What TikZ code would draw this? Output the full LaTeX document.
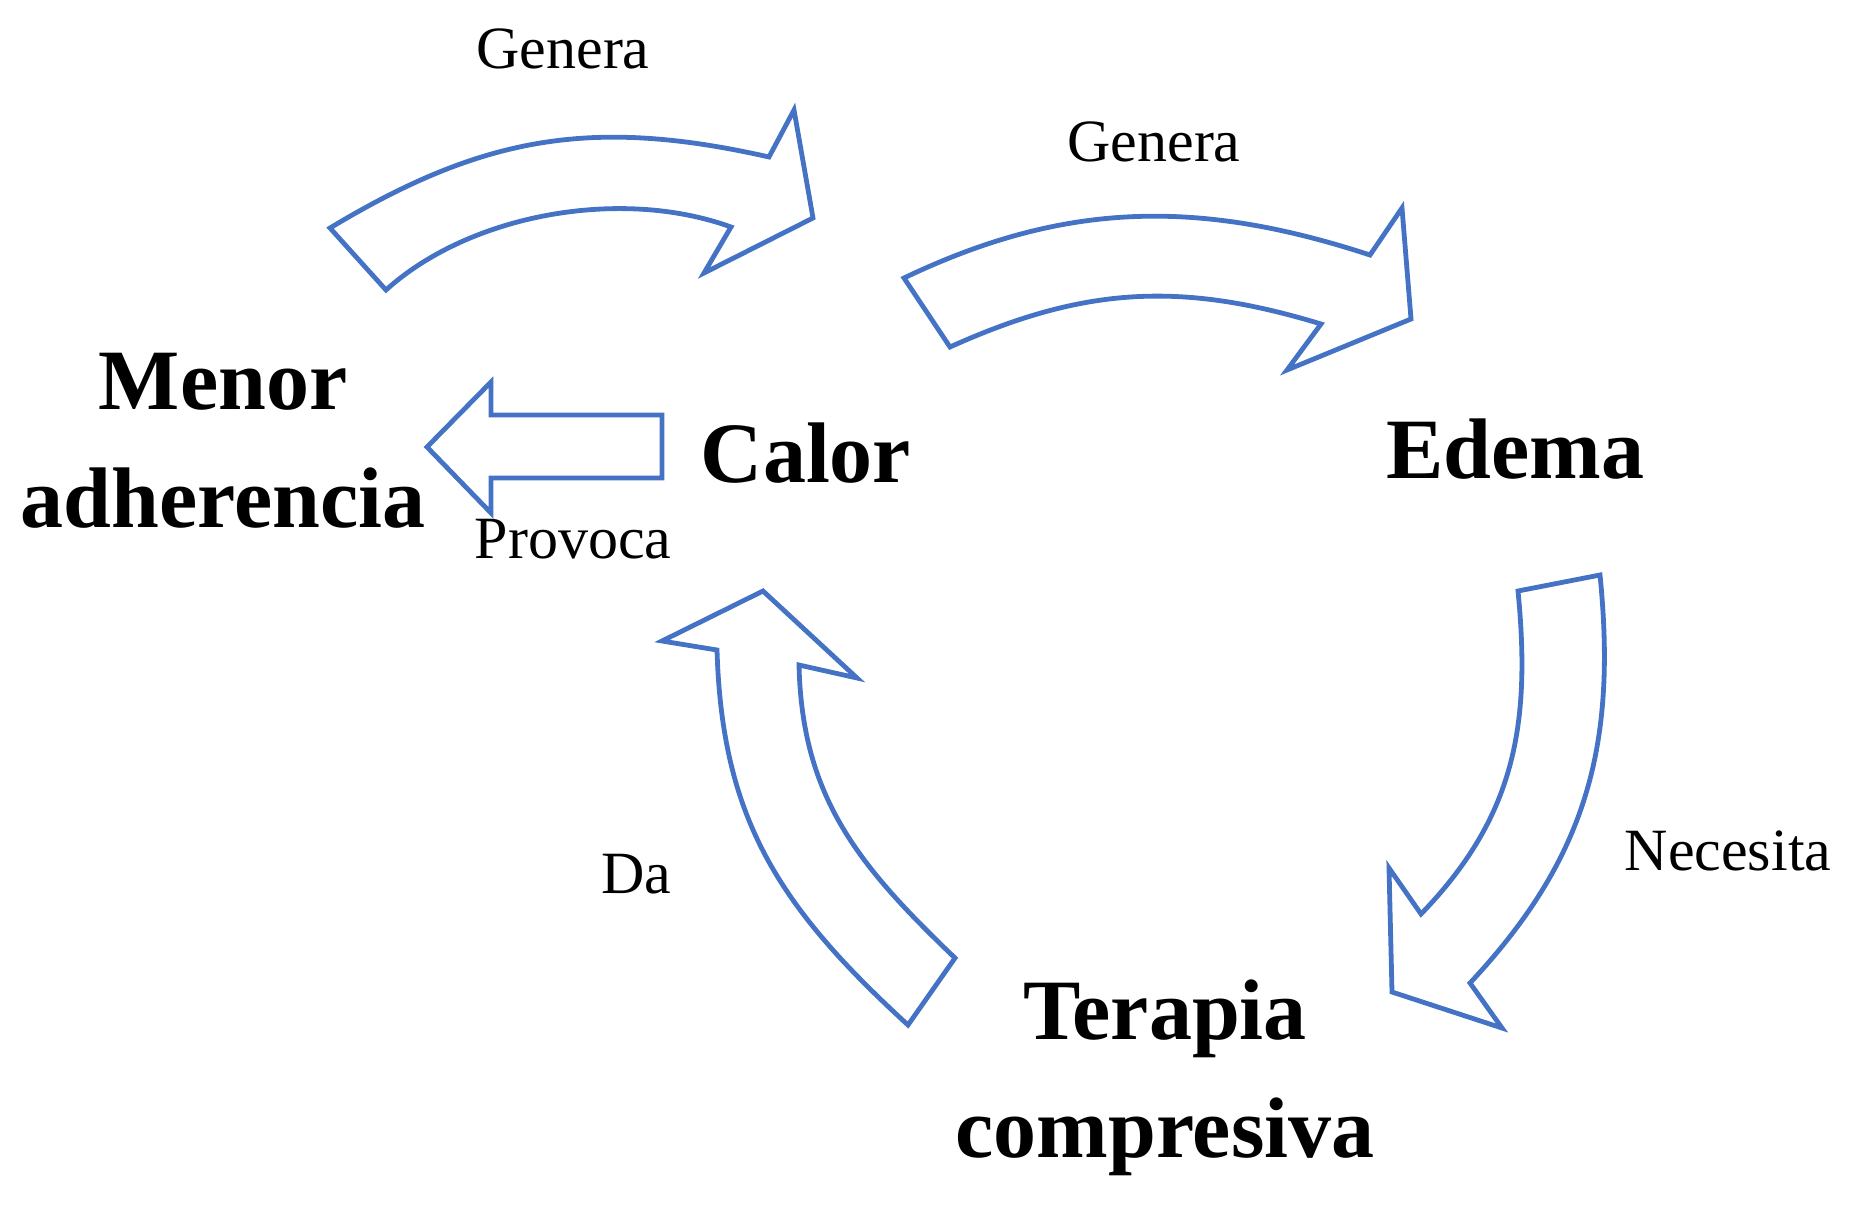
\documentclass[tikz,border=0pt]{standalone}
\usepackage{fontspec}
\setmainfont{Liberation Serif}
\usepackage{tikz}
\definecolor{arrowblue}{HTML}{4472C4}

\begin{document}
\begin{tikzpicture}[x=0.5pt, y=-0.5pt]
                \useasboundingbox (0,0) rectangle (1863,1231);
                \begin{scope}[every node/.style={anchor=base, align=center, inner sep=0, font=\fontsize{43pt}{59pt}\selectfont\bfseries}]
                        \node (menor) at (223,527) {Menor\\adherencia};
                        \node (calor) at (806,482) {Calor};
                        \node (edema) at (1515,478) {Edema};
                        \node (terapia) at (1165,1157) {Terapia\\compresiva};
                \end{scope}
                \begin{scope}[every node/.style={anchor=base, inner sep=0, font=\fontsize{30pt}{36pt}\selectfont}]
                        \node (genera1) at (563,68) {Genera};
                        \node (genera2) at (1154,161) {Genera};
                        \node (provoca) at (573,558) {Provoca};
                        \node (necesita) at (1728,870) {Necesita};
                        \node (da) at (636,893) {Da};
                \end{scope}
                \begin{scope}[every path/.style={draw=arrowblue, line width=2.4pt, line join=miter}]
                        \path (330,228) .. controls (483,136) and (592,117) .. (769,157) -- (794,110) -- (813,218) -- (704,273) -- (731,227)
                                .. controls (621,187) and (470,214) .. (386,290) -- cycle;
                        \path (904,278) .. controls (1065,201) and (1199,199) .. (1370,255) -- (1402,208) -- (1411,319) -- (1287,370) -- (1321,324)
                                .. controls (1180,281) and (1083,287) .. (950,347) -- cycle;
                        \path (1600,575) .. controls (1617,745) and (1587,858) .. (1470,983) -- (1502,1028) -- (1392,992) -- (1389,868) -- (1421,914)
                                .. controls (1515,817) and (1531,725) .. (1518,591) -- cycle;
                        \path (908,1025) .. controls (778,906) and (722,818) .. (717,650) -- (662,641) -- (763,591) -- (857,678) -- (799,665)
                                .. controls (802,798) and (859,866) .. (955,958) -- cycle;
                        \path (427,447) -- (491,382) -- (491,415) -- (662,415) -- (662,478) -- (491,478) -- (491,513) -- cycle;
                \end{scope}
        \end{tikzpicture}
\end{document}
